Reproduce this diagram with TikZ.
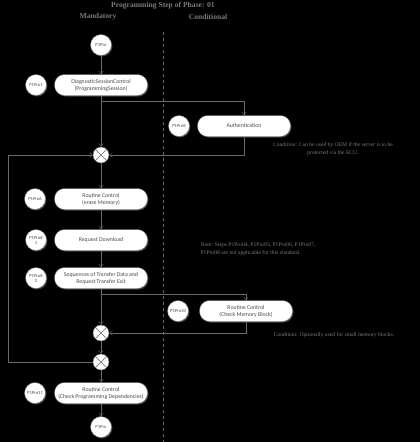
\documentclass[tikz,border=0pt]{standalone}
\usepackage{fontspec}
\setmainfont{Carlito}
\newfontfamily\headfont{Liberation Serif}
\usetikzlibrary{arrows.meta,shadows}
\definecolor{linegray}{HTML}{6A6A6A}
\definecolor{textgray}{HTML}{4A4A4A}
\definecolor{notegray}{HTML}{7A7A7A}
\begin{document}
\begin{tikzpicture}[x=1pt,y=-1pt,
  act/.style={draw=linegray,fill=white,rounded corners=10pt,minimum width=93pt,minimum height=21pt,
    align=center,text=textgray,font=\fontsize{5.8}{7}\selectfont,inner sep=1pt,
    drop shadow={shadow xshift=1pt,shadow yshift=-1pt,fill=gray}},
  tag/.style={draw=linegray,fill=white,circle,minimum size=21pt,inner sep=0pt,align=center,
    text=textgray,font=\fontsize{4.6}{5}\selectfont,
    drop shadow={shadow xshift=1pt,shadow yshift=-1pt,fill=gray}},
  merge/.style={draw=linegray,fill=white,circle,minimum size=16pt,inner sep=0pt},
  flow/.style={draw=linegray,-{Straight Barb[length=3pt,width=4.5pt]}},
  head/.style={text=notegray,font=\headfont\bfseries\fontsize{7.6}{9}\selectfont},
  note/.style={text=notegray,font=\headfont\fontsize{5.6}{8}\selectfont,align=center}]
\fill[black] (0,0) rectangle (420,442);
\useasboundingbox (0,0) rectangle (420,442);
% headers
\node[head] (title) at (163,6) {Programming Step of Phase: 01};
\node[head] (mand) at (98,17) {Mandatory};
\node[head] (cond) at (208,17) {Conditional};
\draw[linegray,dashed] (163,32) -- (163,442);
% mandatory lane
\node[tag] (start) at (101,45) {P1Pro};
\node[act] (dsc) at (101,85) {DiagnosticSessionControl\\(ProgrammingSession)};
\node[tag] (t1) at (36,85) {P1Pro1};
\node[merge] (m1) at (101,155) {};
\node[act] (erase) at (101,199) {Routine Control\\(erase Memory)};
\node[tag] (t6) at (35,199) {P1Pro6};
\node[act] (rd) at (101,240) {Request Download};
\node[tag] (t7) at (36,240) {P1Pro8\\1};
\node[act] (td) at (101,278) {Sequences of Transfer Data and\\Request Transfer Exit};
\node[tag] (t8) at (36,278) {P1Pro8\\2};
\node[merge] (m2) at (101,333) {};
\node[merge] (m3) at (101,362) {};
\node[act] (cpd) at (101,393) {Routine Control\\(Check Programming Dependencies)};
\node[tag] (t11) at (35,393) {P1Pro11};
\node[tag] (stop) at (101,427) {P1Pro};
% conditional lane
\node[act] (auth) at (244,126) {Authentication};
\node[tag] (t3) at (179,126) {P1Pro8};
\node[act] (cmb) at (246,311) {Routine Control\\(Check Memory Block)};
\node[tag] (t10) at (178,311) {P1Pro10};
% crosses
\foreach \m in {m1,m2,m3}
  \draw[linegray] (\m.north west) -- (\m.south east) (\m.north east) -- (\m.south west);
% notes
\node[note] (n1) at (333,149) {Condition: Can be used by OEM if the server is to be\\protected via the ECU.};
\node[note,align=left] (n2) at (258,249) {Note: Steps P1Pro04, P1Pro05, P1Pro06, P1Pro07,\\P1Pro08 are not applicable for this standard.};
\node[note] (n3) at (334,335) {Condition: Optionally used for small memory blocks.};
% connectors
\coordinate (b1) at (101,101);
\coordinate (b2) at (101,294);
\coordinate (lp) at (8,362);
\draw[flow] (start) -- (dsc);
\draw[flow] (dsc) -- (m1);
\draw[flow] (b1) -| (auth.north);
\draw[flow] (auth.south) |- (m1);
\draw[flow] (m3) -- (lp) |- (m1);
\draw[flow] (m1) -- (erase);
\draw[flow] (erase) -- (rd);
\draw[flow] (rd) -- (td);
\draw[flow] (td) -- (m2);
\draw[flow] (b2) -| (cmb.north);
\draw[flow] (cmb.south) |- (m2);
\draw[flow] (m2) -- (m3);
\draw[flow] (m3) -- (cpd);
\draw[flow] (cpd) -- (stop);
\end{tikzpicture}
\end{document}
